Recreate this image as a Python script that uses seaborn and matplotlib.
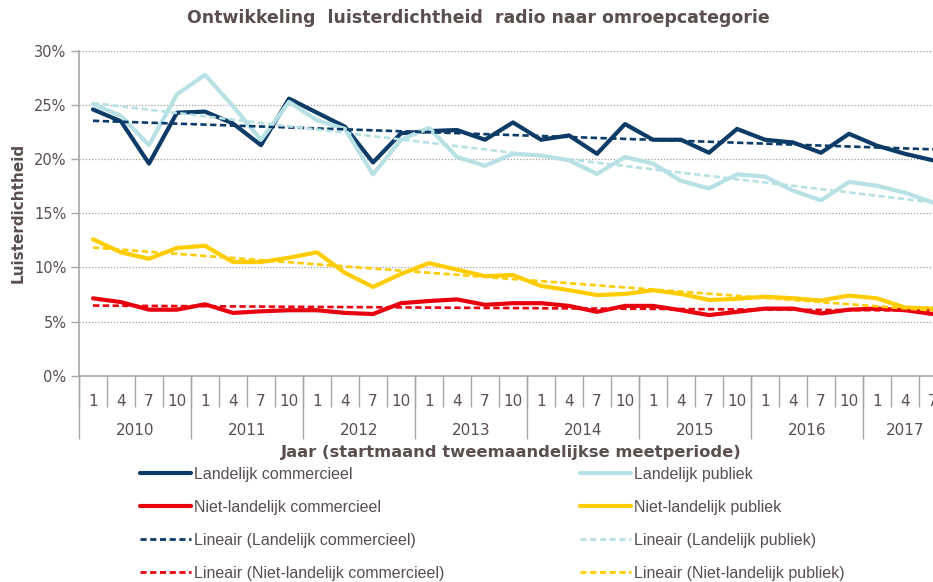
import numpy as np
import pandas as pd
import matplotlib
matplotlib.use("Agg")
import matplotlib.pyplot as plt
from matplotlib.lines import Line2D
import seaborn as sns

# ---------------- data ----------------
years = ["2010", "2011", "2012", "2013", "2014", "2015", "2016", "2017"]
months = ["1", "4", "7", "10"]
month_labels = months * 7 + ["1", "4", "7"]

landelijk_commercieel = [24.6, 23.5, 19.6, 24.3, 24.4, 23.3, 21.3, 25.6, 24.3, 23.0,
                         19.7, 22.4, 22.6, 22.7, 21.8, 23.4, 21.8, 22.2, 20.5, 23.25,
                         21.8, 21.8, 20.6, 22.8, 21.8, 21.55, 20.6, 22.35, 21.25, 20.5, 19.9]
landelijk_publiek = [25.1, 24.0, 21.3, 26.0, 27.8, 24.9, 21.8, 25.3, 23.6, 22.8,
                     18.6, 21.8, 22.9, 20.2, 19.4, 20.5, 20.35, 19.9, 18.65, 20.2,
                     19.6, 18.0, 17.3, 18.6, 18.4, 17.1, 16.2, 17.9, 17.55, 16.9, 16.0]
niet_landelijk_commercieel = [7.15, 6.8, 6.1, 6.1, 6.6, 5.8, 5.95, 6.05, 6.05, 5.8,
                              5.7, 6.7, 6.9, 7.05, 6.55, 6.7, 6.7, 6.45, 5.9, 6.45,
                              6.45, 6.05, 5.6, 5.9, 6.2, 6.2, 5.75, 6.1, 6.2, 6.05, 5.7]
niet_landelijk_publiek = [12.6, 11.4, 10.8, 11.8, 12.0, 10.5, 10.5, 10.9, 11.4, 9.5,
                          8.2, 9.4, 10.4, 9.8, 9.2, 9.3, 8.3, 7.9, 7.45, 7.55,
                          7.9, 7.55, 7.0, 7.1, 7.3, 7.15, 6.95, 7.4, 7.15, 6.3, 6.2]

series_names = ["Landelijk commercieel", "Landelijk publiek",
                "Niet-landelijk commercieel", "Niet-landelijk publiek"]
series_values = [landelijk_commercieel, landelijk_publiek,
                 niet_landelijk_commercieel, niet_landelijk_publiek]
series_colors = ["#0b3b66", "#b7e1e4", "#e8000f", "#ffcc00"]

title = "Ontwikkeling  luisterdichtheid  radio naar omroepcategorie"
ylabel = "Luisterdichtheid"
xlabel = "Jaar (startmaand tweemaandelijkse meetperiode)"

# ---------------- figure ----------------
sns.set_style("white")
TEXT = "#5a4e4e"
AXC = "#a6a6a6"
plt.rcParams["font.family"] = ["DejaVu Sans"]

W, H = 933, 582
fig = plt.figure(figsize=(W / 100, H / 100), dpi=100)
ax_left, ax_right, ax_top, ax_bot = 79, 947, 51, 375.7
ax = fig.add_axes([ax_left / W, 1 - ax_bot / H,
                   (ax_right - ax_left) / W, (ax_bot - ax_top) / H])

n = len(month_labels)
xs = np.arange(n)
frames = []
for name, vals in zip(series_names, series_values):
    frames.append(pd.DataFrame({"x": xs, "value": vals, "serie": name}))
df = pd.concat(frames, ignore_index=True)

sns.lineplot(data=df, x="x", y="value", hue="serie", hue_order=series_names,
             palette=series_colors, linewidth=3.0, ax=ax, legend=False,
             zorder=3, clip_on=False)

# linear trendlines (Excel "Lineair")
for name, vals, col in zip(series_names, series_values, series_colors):
    sns.regplot(x=xs, y=np.array(vals), scatter=False, ci=None, ax=ax,
                color=col, line_kws={"lw": 1.9, "ls": (0, (2.4, 1.3)), "zorder": 4})

ax.set_xlim(-0.5, n - 0.5)
ax.set_ylim(0, 30)
ax.set_yticks(np.arange(0, 31, 5))
ax.set_yticklabels([f"{v}%" for v in range(0, 31, 5)])
ax.yaxis.grid(True, ls=(0, (1, 1.5)), color="#a0a0a0", lw=0.9)
ax.xaxis.grid(False)
for s in ["top", "right"]:
    ax.spines[s].set_visible(False)
for s in ["left", "bottom"]:
    ax.spines[s].set_color(AXC)
    ax.spines[s].set_linewidth(1.2)
ax.tick_params(axis="y", direction="out", length=6, width=1.0, color=AXC,
               labelsize=10.5, labelcolor=TEXT, pad=3, left=True)

# month level
ax.set_xticks(xs)
ax.set_xticklabels(month_labels)
ax.set_xticks(np.arange(-0.5, n, 1.0), minor=True)
ax.tick_params(axis="x", which="major", length=0, labelsize=11, labelcolor=TEXT, pad=13)
ax.tick_params(axis="x", which="minor", direction="out", length=22.5, width=1.0,
               color=AXC, bottom=True)

# year level
sec = ax.secondary_xaxis("bottom")
year_bounds = [-0.5 + 4 * i for i in range(len(years))]
year_centers = [min(4 * i + 1.5, (4 * i + n - 1) / 2) for i in range(len(years))]
sec.set_xticks(year_bounds)
sec.set_xticklabels([""] * len(year_bounds))
sec.set_xticks(year_centers, minor=True)
sec.set_xticklabels(years, minor=True)
sec.tick_params(axis="x", which="major", direction="out", length=45, width=1.0, color=AXC)
sec.tick_params(axis="x", which="minor", length=0, labelsize=11, labelcolor=TEXT, pad=34)
sec.spines["bottom"].set_visible(False)

ax.set_ylabel("")
ax.set_xlabel("")
fig.text(18 / W, 1 - 213 / H, ylabel, rotation=90, ha="center", va="center",
         fontsize=11, fontweight="bold", color=TEXT)
fig.text(511 / W, 1 - 452 / H, xlabel, ha="center", va="center",
         fontsize=11.8, fontweight="bold", color=TEXT)
fig.suptitle(title, x=478 / W, y=1 - 18 / H, ha="center", va="center",
             fontsize=12.5, fontweight="bold", color=TEXT)

# legend (two columns)
def handles(idx, dashed):
    out = []
    for i in idx:
        if dashed:
            out.append(Line2D([], [], color=series_colors[i], lw=2.0, ls=(0, (2.2, 1.3))))
        else:
            out.append(Line2D([], [], color=series_colors[i], lw=3.0))
    return out

col1_h = handles([0], False) + handles([2], False) + handles([0], True) + handles([2], True)
col1_l = [series_names[0], series_names[2],
          f"Lineair ({series_names[0]})", f"Lineair ({series_names[2]})"]
col2_h = handles([1], False) + handles([3], False) + handles([1], True) + handles([3], True)
col2_l = [series_names[1], series_names[3],
          f"Lineair ({series_names[1]})", f"Lineair ({series_names[3]})"]

leg_kw = dict(loc="upper left", frameon=False, handlelength=3.2, handletextpad=0.15,
              labelspacing=1.12, borderaxespad=0, borderpad=0,
              prop={"family": ["Liberation Sans"], "size": 11.5},
              labelcolor=TEXT)
leg1 = fig.legend(col1_h, col1_l, bbox_to_anchor=(140 / W, 1 - 467 / H), **leg_kw)
leg2 = fig.legend(col2_h, col2_l, bbox_to_anchor=(580 / W, 1 - 467 / H), **leg_kw)

fig.savefig("out.png", dpi=100)
